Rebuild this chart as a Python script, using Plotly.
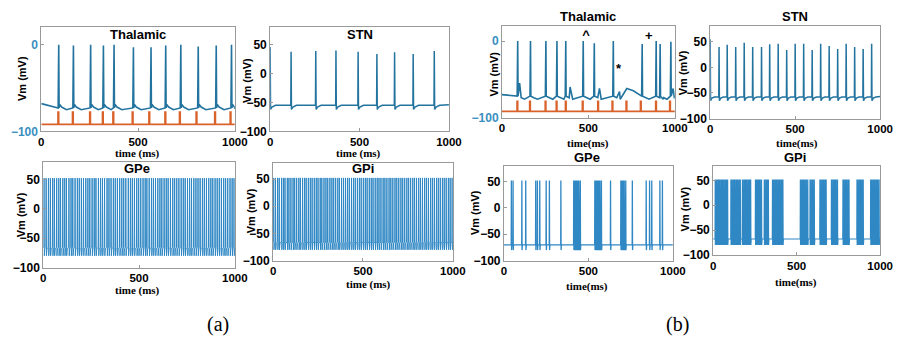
import plotly.graph_objects as go

W, H = 901, 349

# ---------------- data ----------------
X_TICKS = [0, 500, 1000]

# (a) Thalamic
THAL_A_SPIKES = [90, 166, 255, 321, 376, 476, 567, 643, 721, 811, 904, 983]
THAL_A_PEAKS = [0, -1, 0, -1, 0, -3, -3, -1, 0, -2, -1, 0]
STIM_A = [88, 163, 252, 318, 372, 472, 558, 641, 716, 802, 898, 978]

# (a) STN
STN_A_SPIKES = [0, 117, 255, 368, 492, 597, 696, 800, 918]
STN_A_PEAKS = [46, 38, 39, 40, 38, 34, 37, 34, 39]

# (a) GPe / GPi
GPE_A_SPIKES = [4, 15, 27, 37, 49, 58, 70, 81, 90, 102, 112, 121, 134, 145, 154, 166, 178,
                188, 199, 210, 222, 233, 243, 255, 266, 275, 288, 299, 309, 320, 333, 343,
                354, 366, 376, 387, 399, 410, 420, 431, 444, 455, 465, 476, 488, 498, 509,
                521, 532, 541, 553, 565, 575, 586, 598, 609, 619, 631, 642, 652, 664, 676,
                686, 697, 708, 720, 731, 741, 753, 764, 774, 786, 797, 808, 819, 831, 841,
                852, 864, 875, 885, 897, 908, 919, 930, 942, 952, 963, 975, 986, 996]
GPI_A_SPIKES = [3, 13, 25, 34, 47, 57, 66, 79, 88, 99, 111, 120, 131, 143, 152, 164, 175,
                184, 196, 207, 217, 229, 240, 250, 262, 271, 283, 294, 304, 316, 327, 337,
                348, 360, 369, 381, 392, 403, 414, 424, 436, 447, 457, 469, 480, 490, 502,
                513, 523, 535, 546, 556, 568, 579, 589, 600, 612, 622, 633, 645, 655, 666,
                678, 688, 699, 711, 721, 732, 744, 754, 765, 777, 787, 798, 810, 820, 831,
                843, 853, 864, 876, 886, 897, 909, 919, 930, 942, 952, 963, 975, 985, 996]

# (b) Thalamic
THAL_B_SPIKES = [91, 165, 254, 318, 369, 470, 534, 644, 811, 892, 915, 977]
THAL_B_PEAKS = [0, 0, 0, 0, 0, 0, -3, 0, -4, 0, -4, -1]
THAL_B_BUMPS_T = [102, 394, 564, 680, 722, 760, 990]
THAL_B_BUMPS_V = [-55, -60, -62, -66, -62, -65, -62]
STIM_B = [89, 162, 252, 316, 369, 467, 556, 639, 720, 803, 891, 972]
MARK_TEXT = ["^", "+", "*"]
MARK_T = [487, 850, 674]
MARK_V = [7, 5, -37]

# (b) STN
STN_B_SPIKES = [0, 52, 100, 150, 200, 250, 302, 350, 400, 450, 500, 550, 600, 650, 700,
                750, 800, 850, 900, 950]
STN_B_PEAKS = [55, 40, 44, 40, 48, 40, 40, 45, 46, 34, 46, 46, 34, 46, 42, 36, 46, 40, 36, 46]

# (b) GPe
GPE_B_SPIKES = [44, 54, 106, 129, 188, 198, 212, 250, 269, 337,
                413, 418, 423, 428, 433, 438, 443, 448, 452,
                538, 543, 548, 553, 558, 563, 568, 573, 577,
                631, 692, 697, 702, 707, 712, 717, 721, 760,
                842, 862, 875, 923, 938]

# (b) GPi
GPI_B_SPIKES = [12, 18, 24, 31, 37, 43, 50, 56, 62, 69, 75, 81, 87,
                106, 112, 119, 125, 131, 138, 144, 150, 157, 163,
                175, 181, 188, 194, 200, 207, 213, 219, 225,
                253, 259, 266, 272, 278, 285, 290,
                306, 312, 319, 325, 331,
                355, 361, 368, 374, 380, 387, 393, 399, 406, 412, 418,
                522, 528, 535, 541, 547, 554, 560, 567,
                580, 586, 593, 599, 606,
                639, 645, 652, 658, 664, 671, 677,
                708, 714, 721, 727, 733, 740, 745,
                777, 783, 790, 796, 802, 809, 814,
                861, 867, 874, 880, 886, 893, 899,
                943, 949, 956, 962, 968, 975, 981, 987, 994]

# ---------------- styling ----------------
TRACE_DARK = "#23739f"
TRACE_GP = "#2f87c4"
ORANGE = "#d9622b"
TEAL = "#3a8fbf"
BOX = "#9a9a9a"


def wave(times, peaks, rest, shape, start, t_end=1000):
    """Build a voltage trace from spike times/peaks; shape = list of (dt, value)."""
    xs, ys = [0], [start]
    for t, p in zip(times, peaks):
        for dt, v in shape:
            tt = t + dt
            if 0 <= tt <= t_end:
                xs.append(tt)
                ys.append(p if v is None else v)
    xs.append(t_end)
    ys.append(rest)
    return xs, ys


def merge(xs, ys, bt, bv):
    pts = sorted(list(zip(xs, ys)) + list(zip(bt, bv)), key=lambda q: q[0])
    return [p[0] for p in pts], [p[1] for p in pts]


def stim(times, base=-92, top=-78):
    xs, ys = [0], [base]
    for t in times:
        xs += [t - 1.5, t - 1.5, t + 1.5, t + 1.5]
        ys += [base, top, top, base]
    xs.append(1000)
    ys.append(base)
    return xs, ys


fig = go.Figure()

# (a) thalamic
thal_shape = [(-3, -73), (0, None), (2, -73), (5, -69), (15, -72), (40, -75)]
x, y = wave(THAL_A_SPIKES, THAL_A_PEAKS, -74, thal_shape, -68)
fig.add_trace(go.Scatter(x=x, y=y, mode="lines", line=dict(color=TRACE_DARK, width=1.6),
                         xaxis="x", yaxis="y", hoverinfo="skip"))
x, y = stim(STIM_A)
fig.add_trace(go.Scatter(x=x, y=y, mode="lines", line=dict(color=ORANGE, width=1.8),
                         xaxis="x", yaxis="y", hoverinfo="skip"))

# (a) STN
stn_shape = [(-1.5, -55), (0, None), (2, -62), (10, -58), (30, -55)]
x, y = wave(STN_A_SPIKES, STN_A_PEAKS, -54, stn_shape, -55)
fig.add_trace(go.Scatter(x=x, y=y, mode="lines", line=dict(color=TRACE_DARK, width=1.5),
                         xaxis="x2", yaxis="y2", hoverinfo="skip"))

# (a) GPe / GPi
gp_shape = [(-1.5, -66), (0, None), (1.5, -80), (4, -68)]
x, y = wave(GPE_A_SPIKES, [52] * len(GPE_A_SPIKES), -66, gp_shape, -66)
fig.add_trace(go.Scatter(x=x, y=y, mode="lines", line=dict(color=TRACE_GP, width=1),
                         xaxis="x3", yaxis="y3", hoverinfo="skip"))
x, y = wave(GPI_A_SPIKES, [52] * len(GPI_A_SPIKES), -66, gp_shape, -66)
fig.add_trace(go.Scatter(x=x, y=y, mode="lines", line=dict(color=TRACE_GP, width=1),
                         xaxis="x4", yaxis="y4", hoverinfo="skip"))

# (b) thalamic
thal_b_shape = [(-3, -72), (0, None), (2, -72), (20, -74), (40, -76)]
x, y = wave(THAL_B_SPIKES, THAL_B_PEAKS, -74, thal_b_shape, -70)
x, y = merge(x, y, THAL_B_BUMPS_T, THAL_B_BUMPS_V)
fig.add_trace(go.Scatter(x=x, y=y, mode="lines", line=dict(color=TRACE_DARK, width=1.6),
                         xaxis="x5", yaxis="y5", hoverinfo="skip"))
x, y = stim(STIM_B, base=-92, top=-79)
fig.add_trace(go.Scatter(x=x, y=y, mode="lines", line=dict(color=ORANGE, width=1.8),
                         xaxis="x5", yaxis="y5", hoverinfo="skip"))
fig.add_trace(go.Scatter(x=MARK_T, y=MARK_V, mode="text", text=MARK_TEXT,
                         textfont=dict(family="Liberation Sans, Arial", size=13,
                                       color="black", weight="bold"),
                         xaxis="x5", yaxis="y5", hoverinfo="skip"))

# (b) STN
stn_b_shape = [(-1.5, -58), (0, None), (2, -65), (10, -60), (25, -58)]
x, y = wave(STN_B_SPIKES, STN_B_PEAKS, -57, stn_b_shape, -60)
fig.add_trace(go.Scatter(x=x, y=y, mode="lines", line=dict(color=TRACE_DARK, width=1.5),
                         xaxis="x6", yaxis="y6", hoverinfo="skip"))

# (b) GPe / GPi
gpb_shape = [(-1, -70), (0, None), (1.2, -80), (3, -70)]
x, y = wave(GPE_B_SPIKES, [52] * len(GPE_B_SPIKES), -70, gpb_shape, -70)
fig.add_trace(go.Scatter(x=x, y=y, mode="lines", line=dict(color=TRACE_GP, width=1.3),
                         xaxis="x7", yaxis="y7", hoverinfo="skip"))
gpib_shape = [(-1, -68), (0, None), (1.2, -80), (3, -68)]
x, y = wave(GPI_B_SPIKES, [52] * len(GPI_B_SPIKES), -68, gpib_shape, -68)
fig.add_trace(go.Scatter(x=x, y=y, mode="lines", line=dict(color=TRACE_GP, width=1.1),
                         xaxis="x8", yaxis="y8", hoverinfo="skip"))

# ---------------- axes ----------------
TICKFONT = dict(family="Liberation Sans, Arial", size=12, color="black", weight="bold")
XTICKFONT = dict(TICKFONT, size=11.5)
boxes = {
    1: ([39, 236], [28, 134], [-100, 20], [-100, 0], TEAL),
    2: ([272, 454], [28, 134], [-100, 80], [-100, -50, 0, 50], "black"),
    3: ([41, 236], [165, 273], [-100, 80], [-100, -50, 0, 50], "black"),
    4: ([275, 458], [166, 266], [-100, 80], [-100, -50, 0, 50], "black"),
    5: ([508, 684], [27, 120], [-100, 19], [-100, 0], TEAL),
    6: ([720, 893], [27, 121], [-100, 80], [-100, -50, 0, 50], "black"),
    7: ([510, 682], [169, 266], [-100, 80], [-100, -50, 0, 50], "black"),
    8: ([723, 893], [169, 260], [-100, 80], [-100, -50, 0, 50], "black"),
}
layout = dict(width=W, height=H, margin=dict(l=0, r=0, t=0, b=0),
              paper_bgcolor="white", plot_bgcolor="white", showlegend=False)
for i, (xd, yd, yr, yt, ycol) in boxes.items():
    sx = "" if i == 1 else str(i)
    layout["xaxis" + sx] = dict(
        domain=[xd[0] / W, xd[1] / W], range=[0, 1000], tickvals=X_TICKS,
        anchor="y" + sx, showgrid=False, zeroline=False, showline=True, mirror=True,
        linecolor=BOX, linewidth=1, ticks="inside", ticklen=3, tickcolor=BOX,
        tickfont=XTICKFONT)
    layout["yaxis" + sx] = dict(
        domain=[1 - yd[1] / H, 1 - yd[0] / H], range=yr, tickvals=yt,
        anchor="x" + sx, showgrid=False, zeroline=False, showline=True, mirror=True,
        linecolor=BOX, linewidth=1, ticks="inside", ticklen=3, tickcolor=BOX,
        tickfont=dict(TICKFONT, color=ycol))

fig.update_layout(**layout)


def ann(text, xp, yp, size, family="Liberation Sans, Arial", angle=0, bold=True):
    fig.add_annotation(text=text, x=xp / W, y=1 - yp / H, xref="paper", yref="paper",
                       showarrow=False, xanchor="center", yanchor="middle",
                       textangle=angle,
                       font=dict(family=family, size=size, color="black",
                                 weight="bold" if bold else "normal"))


SERIF = "Liberation Serif, Times New Roman"
# titles
ann("Thalamic", 137, 35, 13)
ann("STN", 363, 35, 13)
ann("GPe", 136, 172, 13)
ann("GPi", 367, 172, 13)
ann("Thalamic", 596, 17, 13)
ann("STN", 806, 17, 13)
ann("GPe", 595, 161, 13)
ann("GPi", 806, 161, 13)
# y labels
for xp, yp in [(20, 80), (249, 82), (18, 219), (252, 215), (500, 76), (692, 74),
               (480, 217), (694, 213)]:
    ann("Vm (mV)", xp, yp, 11, angle=-90)
# x labels
for txt, xp, yp in [("time (ms)", 137, 157), ("time (ms)", 362, 157),
                    ("time (ms)", 137, 296), ("time (ms)", 372, 290),
                    ("time(ms)", 596, 146), ("time(ms)", 808, 146),
                    ("time(ms)", 595, 292), ("time(ms)", 807, 288)]:
    ann(txt, xp, yp, 11, family=SERIF)
# captions
ann("(a)", 219, 331, 20, family=SERIF, bold=False)
ann("(b)", 687, 331, 20, family=SERIF, bold=False)

fig.write_html("out.html")
